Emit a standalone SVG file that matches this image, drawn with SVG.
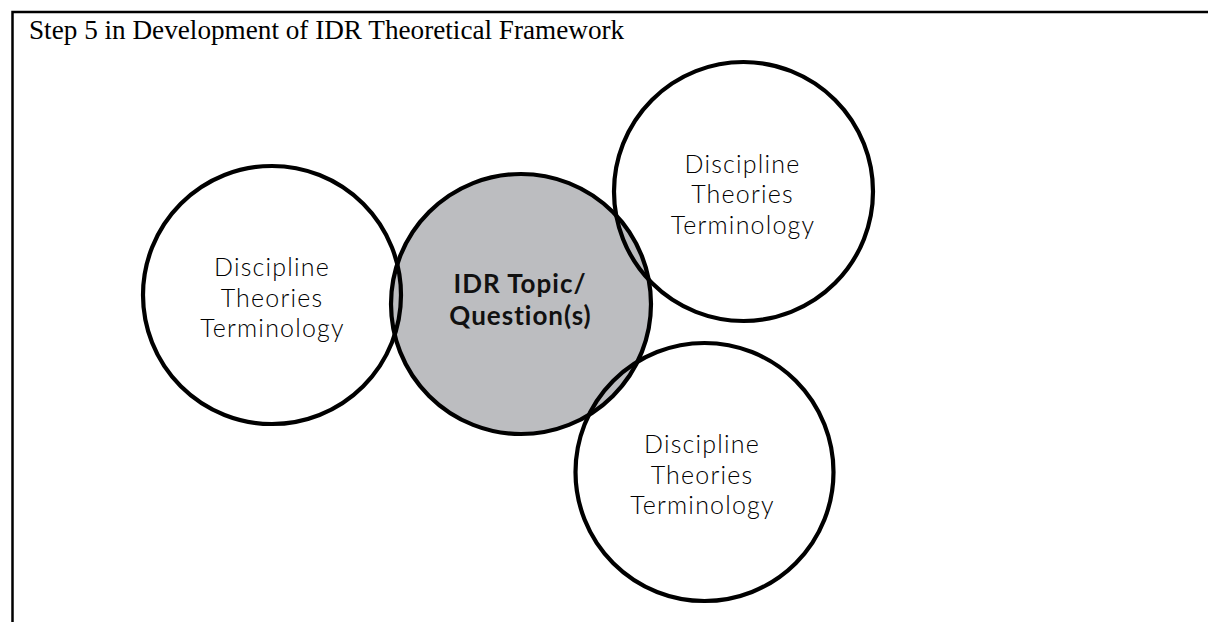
<svg xmlns="http://www.w3.org/2000/svg" width="1208" height="622" viewBox="0 0 1208 622">
<style>
.frame{stroke:#000;stroke-width:2.5;fill:none}
.ring{stroke:#000;stroke-width:4.2;fill:none}
.core{stroke:#000;stroke-width:4.2;fill:#bcbdc0}
.lbl{font-family:Lato,"Noto Sans",sans-serif;font-weight:300;font-size:25px;letter-spacing:1.2px;fill:#000;text-anchor:middle}
.bold{font-family:Lato,"Noto Sans",sans-serif;font-weight:700;font-size:26px;letter-spacing:1px;fill:#111;text-anchor:middle}
.title{font-family:"Liberation Serif",serif;font-size:27.2px;fill:#000}
</style>
<rect width="1208" height="622" fill="#fff"/>
<g id="frame">
<path class="frame" d="M12.5 622 V12 H1208"/>
<text class="title" x="29" y="39">Step 5 in Development of IDR Theoretical Framework</text>
</g>
<g id="node-center">
<circle class="core" cx="521" cy="304" r="130"/>
<text class="bold" x="520" y="293">IDR Topic/</text>
<text class="bold" x="520.5" y="325">Question(s)</text>
</g>
<g id="node-left">
<circle class="ring" cx="272" cy="295" r="129"/>
<text class="lbl" x="272" y="276">Discipline</text>
<text class="lbl" x="272" y="306.5">Theories</text>
<text class="lbl" x="272.5" y="337">Terminology</text>
</g>
<g id="node-topright">
<circle class="ring" cx="743.5" cy="191.5" r="129.5"/>
<text class="lbl" x="742.5" y="172.5">Discipline</text>
<text class="lbl" x="742.5" y="203">Theories</text>
<text class="lbl" x="743" y="233.5">Terminology</text>
</g>
<g id="node-bottomright">
<circle class="ring" cx="704.5" cy="472" r="129"/>
<text class="lbl" x="702" y="453">Discipline</text>
<text class="lbl" x="702" y="483.5">Theories</text>
<text class="lbl" x="702.5" y="514">Terminology</text>
</g>
<g id="connectors"></g>
</svg>
